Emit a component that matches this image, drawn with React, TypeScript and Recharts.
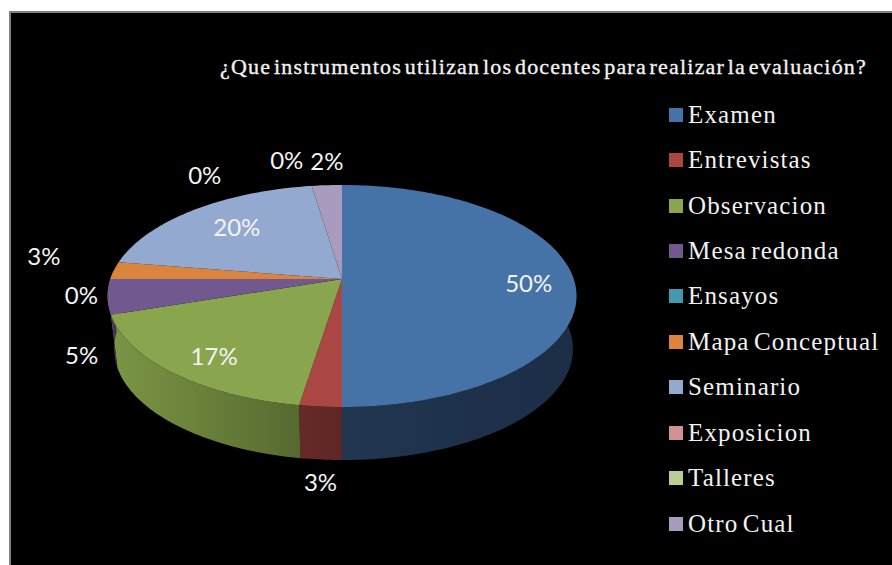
import { Legend, Pie, PieChart } from "recharts";

const categories = [
  "Examen",
  "Entrevistas",
  "Observacion",
  "Mesa redonda",
  "Ensayos",
  "Mapa Conceptual",
  "Seminario",
  "Exposicion",
  "Talleres",
  "Otro Cual",
];
const values = [50, 2.51, 17.4, 5.1, 0, 2.51, 20.08, 0, 0, 2.4];
const colors = ["#4572a7", "#aa4643", "#89a54e", "#71588f", "#4198af", "#db843d", "#93a9cf", "#d19392", "#b9cd96", "#a99bbd"];
const TITLE = "¿Que instrumentos utilizan los docentes para realizar la evaluación?";

// dark side wall, left and right end of the gradient
const wallLeft = ["#22364f", "#662a28", "#7b9645", "#54426b", "#2f7182", "#9c5f2c", "#6a7a96", "#966a69", "#85946c", "#7a7088"];
const wallRight = ["#1c2d46", "#5e2725", "#566a30", "#3d3050", "#2f7182", "#9c5f2c", "#6a7a96", "#966a69", "#85946c", "#7a7088"];

// label offset from the slice's rim point, the labels were moved by hand in the original
const labelNudge = [
  [-45, 3],
  [0, 75],
  [42, -17],
  [-26, 58],
  [-29, 16],
  [-70, -15],
  [42, 17],
  [-107, -11],
  [-25, -26],
  [0, -25],
];

const data = categories.map((name, i) => ({ name, value: values[i], fill: colors[i] }));

// perspective tilt of the disc
const TILT = 0.153;
const FLATTEN = 0.468;
const DEPTH = 53;
const SHRINK_LEFT = 0.972;
const SHRINK_RIGHT = 0.985;
const SERIF = "'Liberation Serif', serif";

// theta: degrees clockwise from 12 o'clock
function rim(cx: number, cy: number, r: number, theta: number) {
  const t = (theta * Math.PI) / 180;
  const d = 1 + TILT * Math.cos(t);
  return { x: cx + (r * Math.sin(t)) / d, y: cy - (r * FLATTEN * Math.cos(t)) / d };
}

function arcPoints(cx: number, cy: number, r: number, from: number, to: number) {
  const pts = [];
  const n = Math.max(1, Math.ceil(to - from));
  for (let i = 0; i <= n; i++) pts.push(rim(cx, cy, r, from + ((to - from) * i) / n));
  return pts;
}

function TopSlice(props: any) {
  const { cx, cy, outerRadius, startAngle, endAngle, fill } = props;
  const from = 90 - startAngle;
  const to = 90 - endAngle;
  if (to - from <= 0) return <g />;
  const pts = arcPoints(cx, cy, outerRadius, from, to);
  const d = `M${cx},${cy}L` + pts.map((p) => `${p.x},${p.y}`).join("L") + "Z";
  return <path d={d} fill={fill} />;
}

function WallSlice(props: any) {
  const { cx, cy, outerRadius, startAngle, endAngle, index } = props;
  const from = Math.max(90 - startAngle, 85);
  const to = Math.min(90 - endAngle, 275);
  if (to - from <= 0) return <g />;
  const top = arcPoints(cx, cy, outerRadius, from, to);
  const bottom = top
    .map((p) => ({ x: cx + (p.x - cx) * (p.x < cx ? SHRINK_LEFT : SHRINK_RIGHT), y: p.y + DEPTH }))
    .reverse();
  const d = "M" + [...top, ...bottom].map((p) => `${p.x},${p.y}`).join("L") + "Z";
  const id = `wall-${index}`;
  return (
    <g>
      <linearGradient id={id} x1="0" y1="0" x2="1" y2="0">
        <stop offset="0%" stopColor={wallLeft[index]} />
        <stop offset="100%" stopColor={wallRight[index]} />
      </linearGradient>
      <path d={d} fill={`url(#${id})`} />
    </g>
  );
}

function renderLabel(props: any) {
  const { cx, cy, outerRadius, midAngle, percent, index } = props;
  const p = rim(cx, cy, outerRadius, 90 - midAngle);
  const [dx, dy] = labelNudge[index];
  return (
    <text
      x={p.x + dx}
      y={p.y + dy}
      fill="#f4f4f4"
      fontFamily="Lato, sans-serif"
      fontSize={24}
      textAnchor="middle"
      dominantBaseline="central"
    >
      {Math.round(percent * 100)}%
    </text>
  );
}

function renderLegend(props: any) {
  // both pies feed the legend, keep one entry per category
  const seen = new Set<string>();
  const items = (props.payload ?? []).filter((it: any) => {
    if (seen.has(it.value)) return false;
    seen.add(it.value);
    return true;
  });
  return (
    <div>
      {items.map((it: any) => (
        <div key={it.value} style={{ height: 45.45, display: "flex", alignItems: "center" }}>
          <span style={{ width: 14, height: 14, background: it.payload?.fill ?? it.color, marginRight: 5, flex: "none" }} />
          <span style={{ fontFamily: SERIF, fontSize: 25, color: "#f2f2f2", whiteSpace: "nowrap", letterSpacing: 1.15, wordSpacing: -3 }}>
            {it.value}
          </span>
        </div>
      ))}
    </div>
  );
}

export default function App() {
  return (
    <div style={{ position: "absolute", left: 0, top: 0, width: 892, height: 565, background: "#fff", overflow: "hidden" }}>
      <div
        style={{
          position: "absolute",
          left: 9,
          top: 11,
          width: 883,
          height: 554,
          background: "#000",
          borderLeft: "2px solid #808080",
          borderTop: "2px solid #808080",
        }}
      />
      <div style={{ position: "absolute", left: 0, top: 0 }}>
        <PieChart width={892} height={565} margin={{ top: 0, right: 0, bottom: 0, left: 0 }}>
          <Pie
            data={data}
            dataKey="value"
            nameKey="name"
            cx={342}
            cy={279}
            outerRadius={231.7}
            startAngle={90}
            endAngle={-270}
            legendType="none"
            shape={WallSlice}
            isAnimationActive={false}
          />
          <Pie
            data={data}
            dataKey="value"
            nameKey="name"
            cx={342}
            cy={279}
            outerRadius={231.7}
            startAngle={90}
            endAngle={-270}
            shape={TopSlice}
            label={renderLabel}
            labelLine={false}
            isAnimationActive={false}
          />
          <Legend
            layout="vertical"
            align="right"
            verticalAlign="top"
            itemSorter={null}
            content={renderLegend}
            wrapperStyle={{ left: 669, right: "auto", top: 92, width: 223 }}
          />
        </PieChart>
      </div>
      <div
        style={{
          position: "absolute",
          left: 220,
          top: 54,
          fontFamily: SERIF,
          fontSize: 22,
          color: "#f2f2f2",
          whiteSpace: "nowrap",
          letterSpacing: 1.2,
          wordSpacing: -4,
          WebkitTextStroke: "0.35px #f2f2f2",
        }}
      >
        {TITLE}
      </div>
    </div>
  );
}
